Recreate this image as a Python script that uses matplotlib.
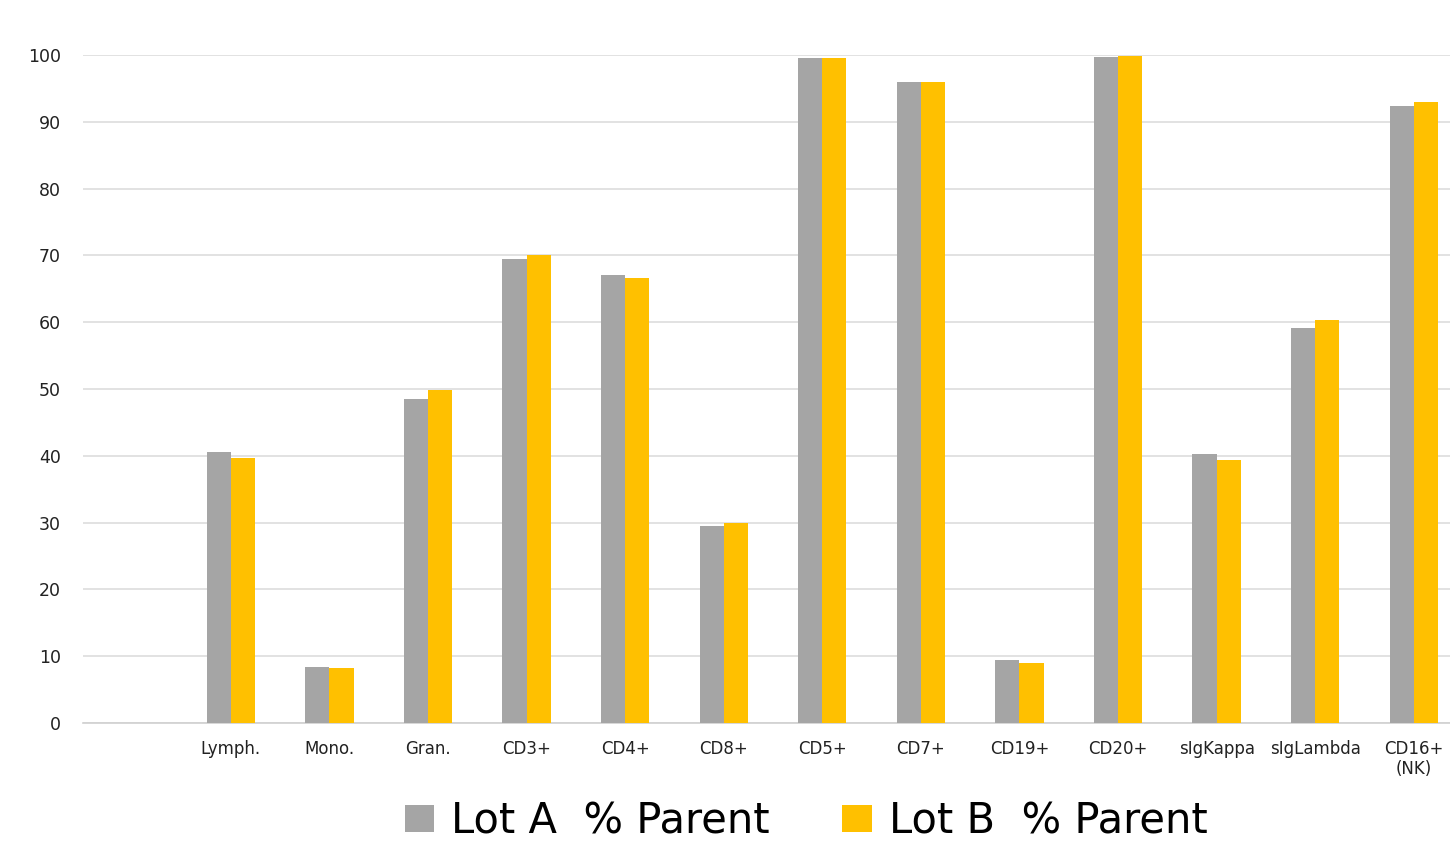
import matplotlib
matplotlib.use("Agg")
import matplotlib.pyplot as plt
import numpy as np

categories = ["", "Lymph.", "Mono.", "Gran.", "CD3+", "CD4+", "CD8+", "CD5+", "CD7+",
              "CD19+", "CD20+", "sIgKappa", "sIgLambda", "CD16+\n(NK)"]
lot_a = [np.nan, 40.6, 8.4, 48.5, 69.4, 67.1, 29.5, 99.5, 96.0, 9.5, 99.7, 40.2, 59.1, 92.4]
lot_b = [np.nan, 39.7, 8.2, 49.8, 70.1, 66.6, 29.9, 99.5, 96.0, 9.0, 99.8, 39.3, 60.3, 92.9]
series_names = ["Lot A  % Parent", "Lot B  % Parent"]
yticks = [0, 10, 20, 30, 40, 50, 60, 70, 80, 90, 100]

plt.rcParams["font.family"] = ["DejaVu Sans"]

W, H = 1450, 846
fig = plt.figure(figsize=(W / 100, H / 100), dpi=100)
left, right, bottom, top = 83, 1463, 723, 55
ax = fig.add_axes([left / W, (H - bottom) / H, (right - left) / W, (bottom - top) / H])

x = np.arange(len(categories))
w = 0.245
ax.bar(x - w / 2, lot_a, w, color="#A5A5A5", label=series_names[0], zorder=3)
ax.bar(x + w / 2, lot_b, w, color="#FFC000", label=series_names[1], zorder=3)

ax.set_xlim(-0.5, len(categories) - 0.5)
ax.set_ylim(0, 100)
ax.set_yticks(yticks)
ax.set_yticklabels([str(t) for t in yticks], fontsize=12.5, color="#222222")
ax.set_xticks(x)
ax.set_xticklabels(categories, fontsize=12, color="#222222", linespacing=1.2)
ax.tick_params(axis="both", length=0)
ax.tick_params(axis="x", pad=12)
ax.tick_params(axis="y", pad=16)
ax.grid(axis="y", color="#DDDDDD", linewidth=1.2, zorder=0)
for s in ["left", "right", "top"]:
    ax.spines[s].set_visible(False)
ax.spines["bottom"].set_color("#D0D0D0")
ax.spines["bottom"].set_linewidth(1.2)

fig.legend(loc="center", bbox_to_anchor=(806 / W, 1 - 821 / H), ncol=2, frameon=False,
           prop={"family": "DejaVu Sans", "size": 30}, handlelength=0.7, handleheight=0.6,
           handletextpad=0.41, columnspacing=1.75)

fig.savefig("out.png", dpi=100)
